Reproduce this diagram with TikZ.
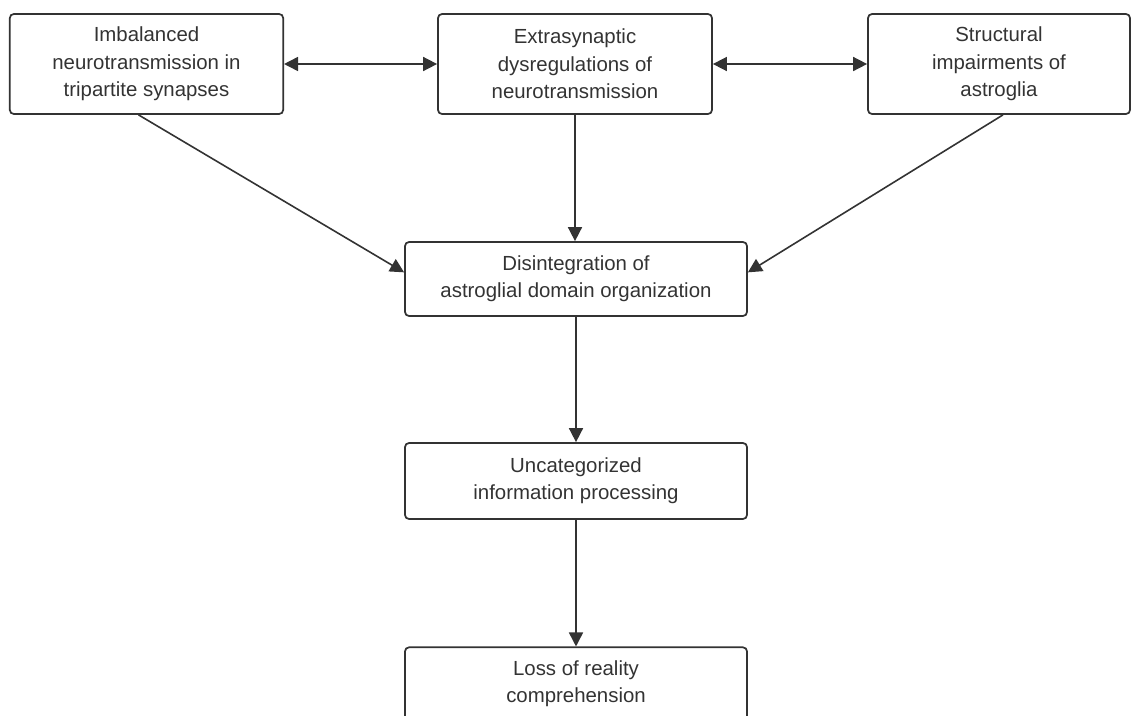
\documentclass[tikz,border=0pt]{standalone}
\usepackage{fontspec}
\setmainfont{Liberation Sans}
\usepackage{tikz}
\usetikzlibrary{calc,arrows.meta}
\definecolor{inkgray}{HTML}{333333}

\begin{document}
\begin{tikzpicture}[x=0.75pt,y=-0.75pt,
    box/.style={draw=inkgray, line width=1.3pt, rounded corners=3pt, align=center,
        text=inkgray, font=\fontsize{15.3pt}{20.5pt}\selectfont, inner sep=0pt},
    link/.style={draw=inkgray, line width=1.2pt, -{Triangle[length=10.5pt,width=10.5pt]}},
    both/.style={link, {Triangle[length=10.5pt,width=10.5pt]}-{Triangle[length=10.5pt,width=10.5pt]}}]
    \useasboundingbox (0,0) rectangle (1138,715);
    \node[box, minimum width=205pt, minimum height=75pt] (imb) at (146.5,64)
        {Imbalanced\\neurotransmission in\\tripartite synapses};
    \node[box, minimum width=205.5pt, minimum height=75pt] (extra) at (575,64)
        {Extrasynaptic\\dysregulations of\\neurotransmission};
    \node[box, minimum width=196.5pt, minimum height=75pt] (struct) at (999,64)
        {Structural\\impairments of\\astroglia};
    \node[box, minimum width=256.5pt, minimum height=55.5pt] (dis) at (576,279)
        {Disintegration of\\astroglial domain organization};
    \node[box, minimum width=256.5pt, minimum height=57pt] (uncat) at (576,481)
        {Uncategorized\\information processing};
    \node[box, minimum width=256.5pt, minimum height=55pt] (loss) at (576,684)
        {Loss of reality\\comprehension};
    \draw[both] (imb) -- (extra);
    \draw[both] (extra) -- (struct);
    \draw[link] ([xshift=-6pt]imb.south) -- ([yshift=5pt]dis.west);
    \draw[link] (extra.south) -- (extra.south |- dis.north);
    \draw[link] ([xshift=3pt]struct.south) -- ([yshift=5pt]dis.east);
    \draw[link] (dis) -- (uncat);
    \draw[link] (uncat) -- (loss);
\end{tikzpicture}
\end{document}
